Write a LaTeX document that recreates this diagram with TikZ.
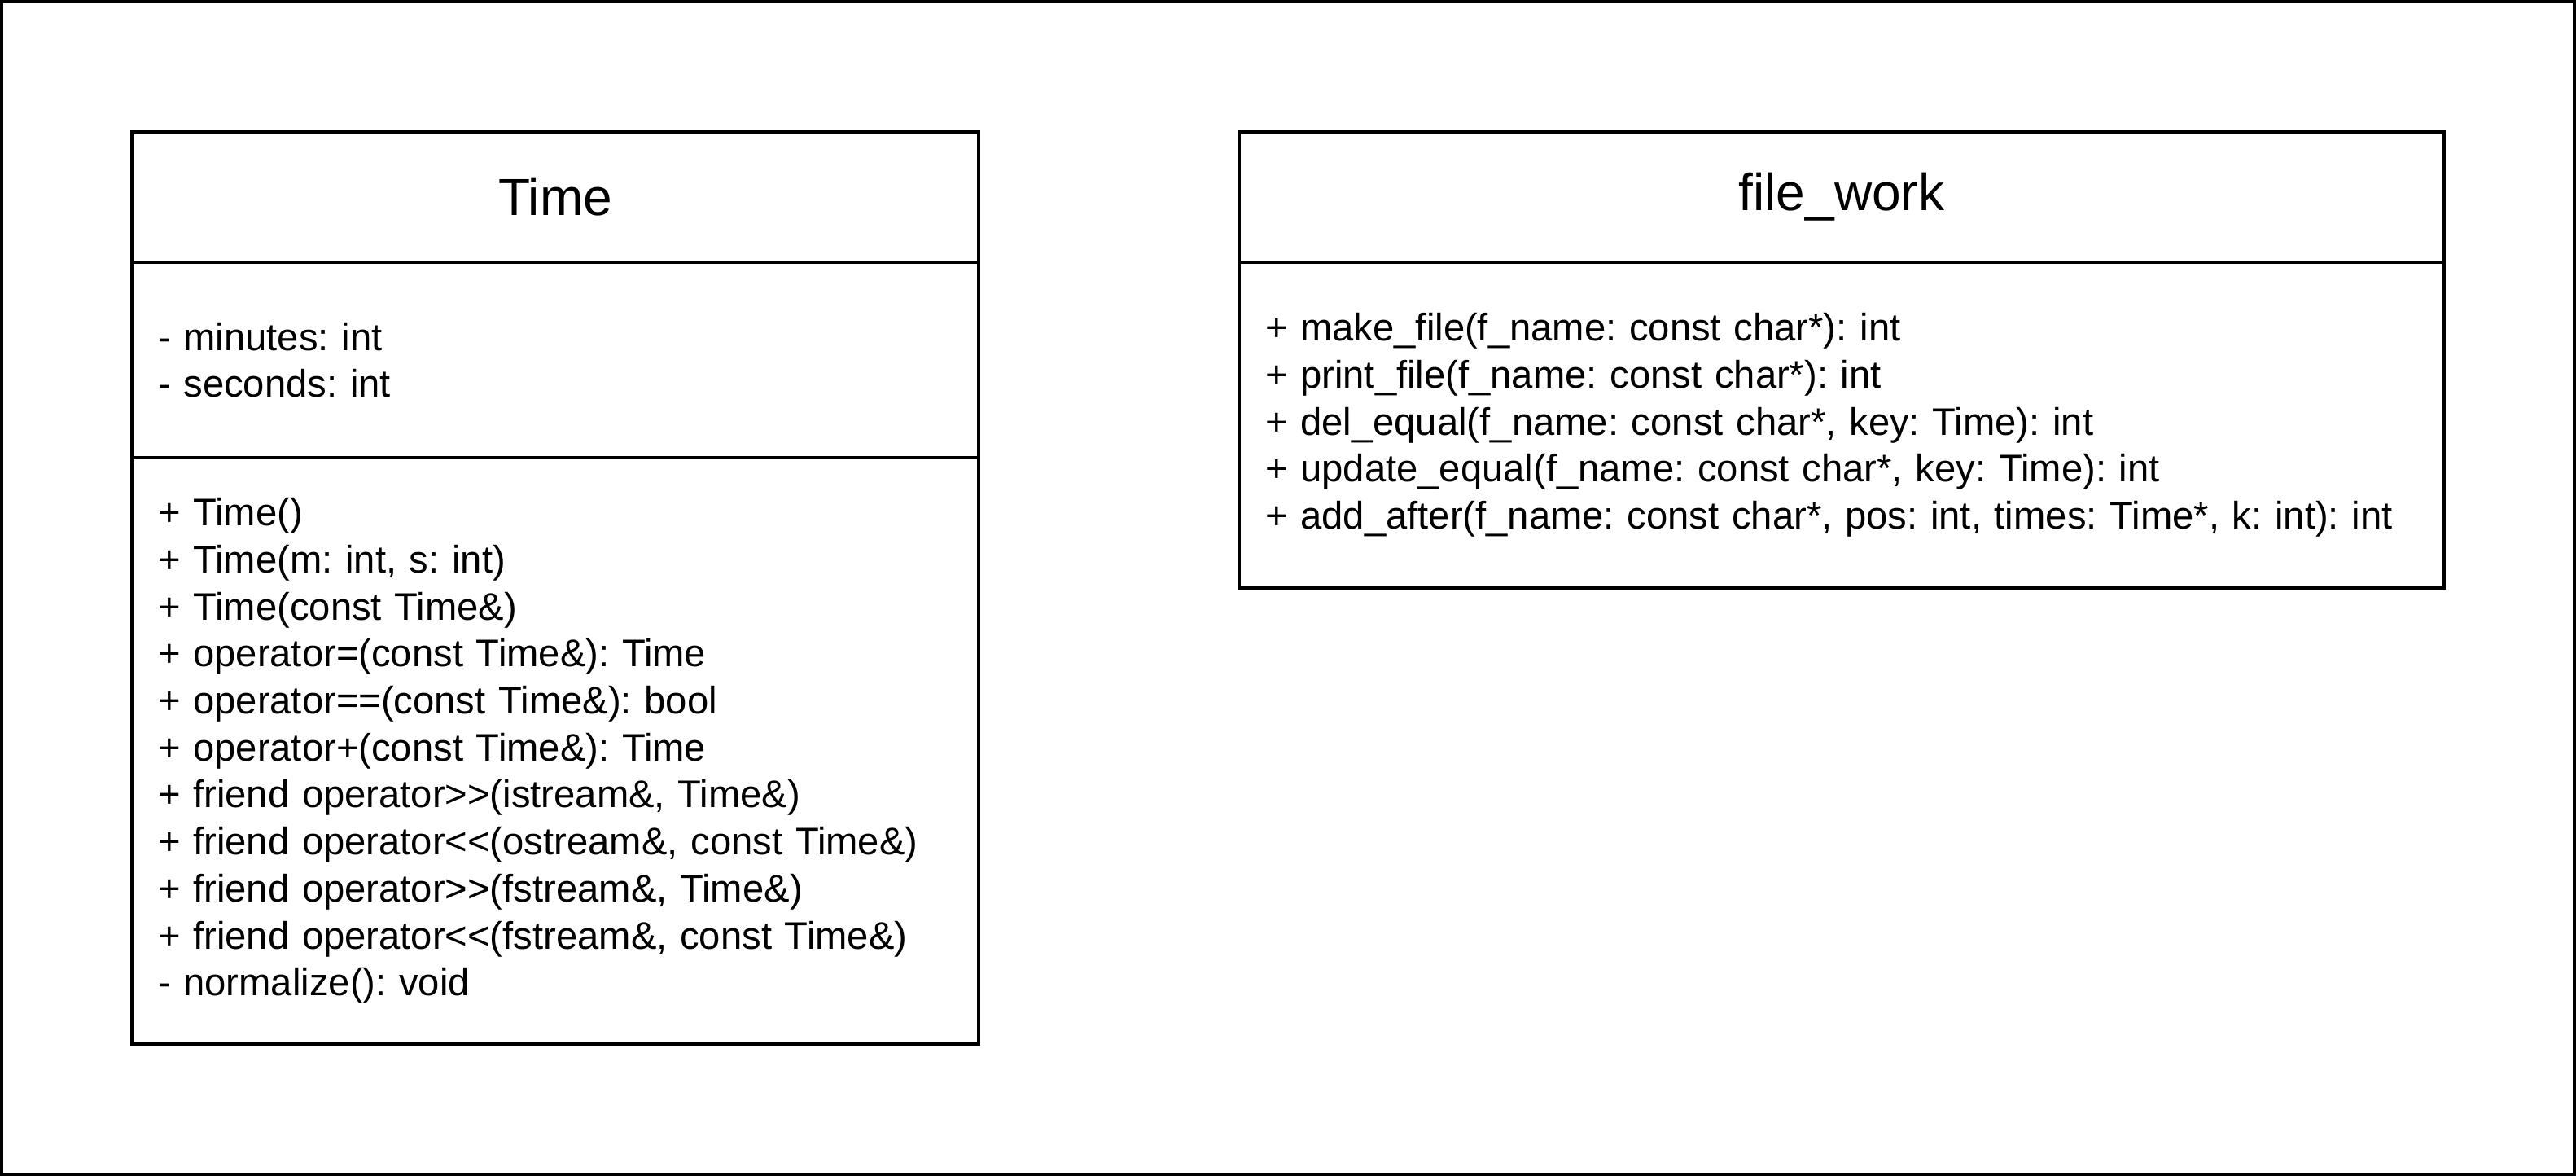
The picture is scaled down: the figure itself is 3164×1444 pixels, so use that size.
\documentclass[tikz,border=0pt]{standalone}
\usepackage{fontspec}
\setmainfont{Liberation Sans}[Ligatures=TeXOff]
\usepackage{tikz}
\usetikzlibrary{positioning}
\frenchspacing

\begin{document}
\begin{tikzpicture}[x=0.5pt, y=-0.5pt,
    cls/.style={draw, line width=2pt, outer sep=0pt, inner sep=0pt, anchor=north west},
    head/.style={cls, font=\fontsize{32}{38}\selectfont, align=center},
    sect/.style={cls, font=\fontsize{23.6}{28.85}\selectfont, align=left, inner xsep=16pt},
    node distance=0pt]
    \useasboundingbox (0,0) rectangle (3164,1444);
    \draw[line width=2pt] (2,2) rectangle (3162,1442);
    % class Time
    \node[head, minimum width=520pt, minimum height=80pt] (timehead) at (162,162) {Time};
    \node[sect, text width=488pt, minimum height=120pt, below right=of timehead.south west] (timeattr) {- minutes: int \\
        - seconds: int};
    \node[sect, text width=488pt, minimum height=360pt, below right=of timeattr.south west] (timeops) {+ Time() \\
        + Time(m: int, s: int) \\
        + Time(const Time\&) \\
        + operator=(const Time\&): Time \\
        + operator==(const Time\&): bool \\
        + operator+(const Time\&): Time \\
        + friend operator>>(istream\&, Time\&) \\
        + friend operator<<(ostream\&, const Time\&) \\
        + friend operator>>(fstream\&, Time\&) \\
        + friend operator<<(fstream\&, const Time\&) \\
        - normalize(): void};
    % class file_work
    \node[head, minimum width=740pt, minimum height=80pt] (fwhead) at (1522,162) {file\_work};
    \node[sect, text width=708pt, minimum height=200pt, below right=of fwhead.south west] (fwops) {+ make\_file(f\_name: const char*): int \\
        + print\_file(f\_name: const char*): int \\
        + del\_equal(f\_name: const char*, key: Time): int \\
        + update\_equal(f\_name: const char*, key: Time): int \\
        + add\_after(f\_name: const char*, pos: int, times: Time*, k: int): int};
\end{tikzpicture}
\end{document}
